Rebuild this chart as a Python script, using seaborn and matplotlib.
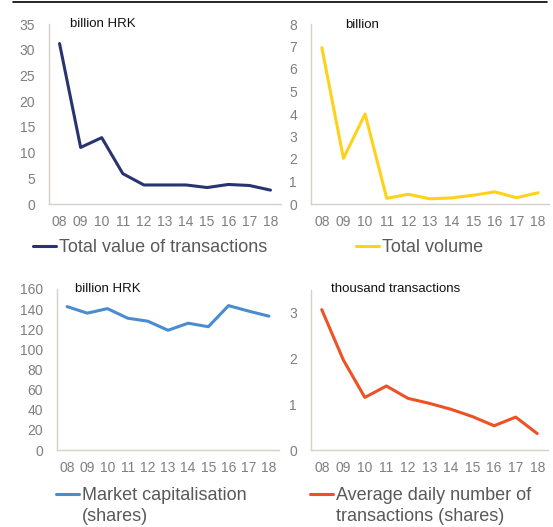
import matplotlib
matplotlib.use("Agg")
import matplotlib.pyplot as plt
import seaborn as sns
import pandas as pd

# data
years = ["08", "09", "10", "11", "12", "13", "14", "15", "16", "17", "18"]
total_value = [31.2, 11.0, 12.9, 5.9, 3.7, 3.7, 3.7, 3.2, 3.8, 3.6, 2.7]
total_volume = [6.95, 2.03, 4.0, 0.25, 0.43, 0.23, 0.27, 0.39, 0.54, 0.28, 0.5]
market_cap = [142.5, 136, 140.5, 131, 128, 119, 126, 122.5, 143.5, 138, 133]
daily_trans = [3.07, 1.97, 1.15, 1.40, 1.13, 1.02, 0.89, 0.73, 0.53, 0.72, 0.36]

sns.set_style("white")
plt.rcParams["font.family"] = ["Liberation Sans", "DejaVu Sans"]

fig = plt.figure(figsize=(5.53, 5.27), dpi=100)
W, H = 553, 527

def px_axes(x0, x1, ytop, ybot):
    return fig.add_axes([x0 / W, 1 - ybot / H, (x1 - x0) / W, (ybot - ytop) / H])

panels = [
    # values, legend lines, colour, ylim, yticks, axes box, unit text, unit pos, legend pos
    (total_value, ["Total value of transactions"], "#28346F", (0, 35), range(0, 36, 5),
     (49, 281, 24, 204), "billion HRK", (70, 24), (33, 239)),
    (total_volume, ["Total volume"], "#FFD21A", (0, 8), range(0, 9),
     (311, 549, 24, 204), "billion", (345, 25), (356, 239)),
    (market_cap, ["Market capitalisation", "(shares)"], "#4A8CD0", (0, 160), range(0, 161, 20),
     (57, 279, 289, 450), "billion HRK", (75, 289), (56, 487)),
    (daily_trans, ["Average daily number of", "transactions (shares)"], "#EE5124", (0, 3.5), range(0, 4),
     (311, 548, 290, 450), "thousand transactions", (331, 289), (310, 487)),
]

legends = []
for vals, label, color, ylim, yticks, box, unit, upos, lpos in panels:
    ax = px_axes(*box)
    df = pd.DataFrame({"x": range(len(years)), "y": vals})
    sns.lineplot(data=df, x="x", y="y", ax=ax, color=color, linewidth=2.2, label=label[0])
    ax.set_xlim(-0.5, len(years) - 0.5)
    ax.set_ylim(*ylim)
    ax.set_xticks(range(len(years)))
    ax.set_xticklabels(years)
    ax.set_yticks(list(yticks))
    ax.set_xlabel("")
    ax.set_ylabel("")
    for s in ["top", "right"]:
        ax.spines[s].set_visible(False)
    for s in ["left", "bottom"]:
        ax.spines[s].set_color("#D6D0CA")
        ax.spines[s].set_linewidth(1.0)
    ax.tick_params(axis="both", length=0, labelsize=10, colors="#7F7F7F", pad=8)
    ax.tick_params(axis="y", pad=10)
    fig.text(upos[0] / W, 1 - upos[1] / H, unit, fontsize=9.5, color="#111111",
             ha="left", va="center")
    leg = ax.legend(loc="upper left", bbox_to_anchor=(lpos[0] / W, 1 - lpos[1] / H),
                    bbox_transform=fig.transFigure, frameon=False, fontsize=13,
                    handlelength=1.3, handletextpad=0.15, borderpad=0, borderaxespad=0,
                    labelcolor="#595959")
    legends.append((leg, label[1:]))

# second legend lines sit under the first, the handle stays on line one
fig.canvas.draw()
for leg, rest in legends:
    for i, line in enumerate(rest):
        bb = leg.get_texts()[0].get_window_extent()
        fig.text(bb.x0 / W, (bb.y0 - 21 * (i + 1)) / H, line, fontsize=13,
                 color="#595959", ha="left", va="bottom")

fig.add_artist(plt.Line2D([13 / W, 547 / W], [1 - 2 / H, 1 - 2 / H], color="black", linewidth=1.2))

fig.savefig("out.png", dpi=100)
